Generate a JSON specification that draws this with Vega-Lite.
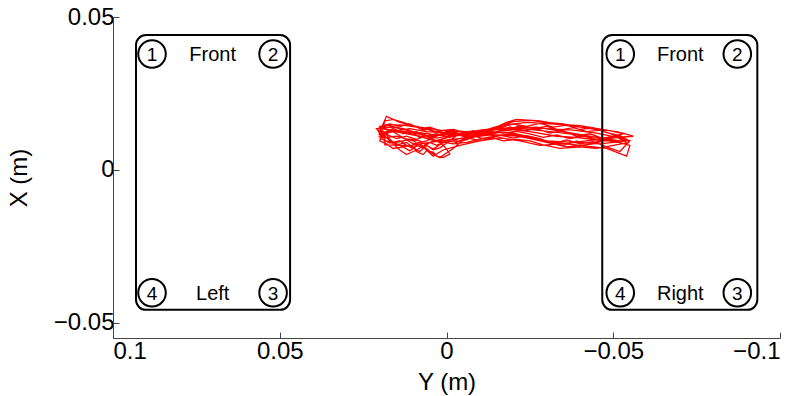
{
  "$schema": "https://vega.github.io/schema/vega-lite/v6.json",
  "autosize": {"type": "none"},
  "padding": {"left": 113, "top": 17, "right": 17, "bottom": 58},
  "width": 667,
  "height": 321,
  "background": "white",
  "config": {
    "view": {"stroke": null},
    "font": "Liberation Sans",
    "axis": {
      "domainColor": "#444",
      "tickColor": "#444",
      "tickSize": -6,
      "grid": false,
      "labelFont": "Liberation Sans",
      "titleFont": "Liberation Sans",
      "labelFontSize": 24,
      "titleFontSize": 24,
      "titleFontWeight": "normal",
      "labelColor": "black",
      "titleColor": "black"
    }
  },
  "datasets": {
    "boxes": [
      {"y1": 0.0931, "y2": 0.0469, "x1": -0.0458, "x2": 0.0441},
      {"y1": -0.0467, "y2": -0.0932, "x1": -0.0458, "x2": 0.0441}
    ],
    "circles": [
      {"Y": 0.0883, "X": 0.0379, "label": "1"},
      {"Y": 0.0520, "X": 0.0379, "label": "2"},
      {"Y": 0.0520, "X": -0.0402, "label": "3"},
      {"Y": 0.0883, "X": -0.0402, "label": "4"},
      {"Y": -0.0521, "X": 0.0379, "label": "1"},
      {"Y": -0.0872, "X": 0.0379, "label": "2"},
      {"Y": -0.0872, "X": -0.0402, "label": "3"},
      {"Y": -0.0521, "X": -0.0402, "label": "4"}
    ],
    "words": [
      {"Y": 0.0701, "X": 0.0379, "label": "Front"},
      {"Y": 0.0701, "X": -0.0402, "label": "Left"},
      {"Y": -0.0701, "X": 0.0379, "label": "Front"},
      {"Y": -0.0701, "X": -0.0402, "label": "Right"}
    ],
    "path": [
      {"t": 1, "Y": 0.018, "X": 0.013}, {"t": 2, "Y": 0.012, "X": 0.0125}, {"t": 3, "Y": 0.005, "X": 0.011}, {"t": 4, "Y": 0.0, "X": 0.0115}, {"t": 5, "Y": -0.008, "X": 0.012}, {"t": 6, "Y": -0.015, "X": 0.0135}, {"t": 7, "Y": -0.022, "X": 0.014}, {"t": 8, "Y": -0.030, "X": 0.0135}, {"t": 9, "Y": -0.038, "X": 0.013}, {"t": 10, "Y": -0.045, "X": 0.012}, {"t": 11, "Y": -0.052, "X": 0.0105},
      {"t": 12, "Y": -0.054, "X": 0.0095}, {"t": 13, "Y": -0.046, "X": 0.0085}, {"t": 14, "Y": -0.038, "X": 0.009}, {"t": 15, "Y": -0.030, "X": 0.0095}, {"t": 16, "Y": -0.022, "X": 0.011}, {"t": 17, "Y": -0.014, "X": 0.0115}, {"t": 18, "Y": -0.006, "X": 0.0105}, {"t": 19, "Y": 0.002, "X": 0.0095}, {"t": 20, "Y": 0.008, "X": 0.0085}, {"t": 21, "Y": 0.013, "X": 0.0075}, {"t": 22, "Y": 0.017, "X": 0.0095}, {"t": 23, "Y": 0.020, "X": 0.0125},
      {"t": 24, "Y": 0.018, "X": 0.0175}, {"t": 25, "Y": 0.014, "X": 0.0155}, {"t": 26, "Y": 0.008, "X": 0.014}, {"t": 27, "Y": 0.002, "X": 0.013}, {"t": 28, "Y": -0.004, "X": 0.0125}, {"t": 29, "Y": -0.010, "X": 0.0125}, {"t": 30, "Y": -0.016, "X": 0.0145}, {"t": 31, "Y": -0.024, "X": 0.0155}, {"t": 32, "Y": -0.032, "X": 0.015}, {"t": 33, "Y": -0.040, "X": 0.0145}, {"t": 34, "Y": -0.048, "X": 0.013}, {"t": 35, "Y": -0.053, "X": 0.012},
      {"t": 36, "Y": -0.050, "X": 0.0105}, {"t": 37, "Y": -0.042, "X": 0.0095}, {"t": 38, "Y": -0.034, "X": 0.0085}, {"t": 39, "Y": -0.028, "X": 0.008}, {"t": 40, "Y": -0.022, "X": 0.0095}, {"t": 41, "Y": -0.016, "X": 0.0105}, {"t": 42, "Y": -0.010, "X": 0.0095}, {"t": 43, "Y": -0.004, "X": 0.008}, {"t": 44, "Y": 0.001, "X": 0.0065}, {"t": 45, "Y": 0.004, "X": 0.0045}, {"t": 46, "Y": 0.007, "X": 0.0075}, {"t": 47, "Y": 0.010, "X": 0.0095}, {"t": 48, "Y": 0.015, "X": 0.011}, {"t": 49, "Y": 0.019, "X": 0.0105},
      {"t": 50, "Y": 0.021, "X": 0.0135}, {"t": 51, "Y": 0.016, "X": 0.014}, {"t": 52, "Y": 0.010, "X": 0.0125}, {"t": 53, "Y": 0.004, "X": 0.0115}, {"t": 54, "Y": -0.002, "X": 0.0115}, {"t": 55, "Y": -0.008, "X": 0.011}, {"t": 56, "Y": -0.013, "X": 0.012}, {"t": 57, "Y": -0.019, "X": 0.0135}, {"t": 58, "Y": -0.027, "X": 0.014}, {"t": 59, "Y": -0.035, "X": 0.0125}, {"t": 60, "Y": -0.043, "X": 0.011}, {"t": 61, "Y": -0.050, "X": 0.0095}, {"t": 62, "Y": -0.055, "X": 0.008},
      {"t": 63, "Y": -0.054, "X": 0.0045}, {"t": 64, "Y": -0.048, "X": 0.007}, {"t": 65, "Y": -0.040, "X": 0.008}, {"t": 66, "Y": -0.032, "X": 0.009}, {"t": 67, "Y": -0.026, "X": 0.0105}, {"t": 68, "Y": -0.020, "X": 0.012}, {"t": 69, "Y": -0.012, "X": 0.0125}, {"t": 70, "Y": -0.005, "X": 0.0115}, {"t": 71, "Y": 0.000, "X": 0.0105}, {"t": 72, "Y": 0.005, "X": 0.009}, {"t": 73, "Y": 0.009, "X": 0.0065}, {"t": 74, "Y": 0.012, "X": 0.005}, {"t": 75, "Y": 0.014, "X": 0.0065}, {"t": 76, "Y": 0.016, "X": 0.0085}, {"t": 77, "Y": 0.018, "X": 0.0115},
      {"t": 78, "Y": 0.017, "X": 0.0125}, {"t": 79, "Y": 0.011, "X": 0.0135}, {"t": 80, "Y": 0.006, "X": 0.0125}, {"t": 81, "Y": -0.001, "X": 0.012}, {"t": 82, "Y": -0.007, "X": 0.0115}, {"t": 83, "Y": -0.013, "X": 0.013}, {"t": 84, "Y": -0.018, "X": 0.0155}, {"t": 85, "Y": -0.021, "X": 0.0165}, {"t": 86, "Y": -0.028, "X": 0.016}, {"t": 87, "Y": -0.036, "X": 0.0145}, {"t": 88, "Y": -0.044, "X": 0.0135}, {"t": 89, "Y": -0.051, "X": 0.0125}, {"t": 90, "Y": -0.056, "X": 0.011},
      {"t": 91, "Y": -0.050, "X": 0.0105}, {"t": 92, "Y": -0.044, "X": 0.0085}, {"t": 93, "Y": -0.036, "X": 0.0075}, {"t": 94, "Y": -0.030, "X": 0.009}, {"t": 95, "Y": -0.024, "X": 0.0105}, {"t": 96, "Y": -0.018, "X": 0.0115}, {"t": 97, "Y": -0.012, "X": 0.0105}, {"t": 98, "Y": -0.006, "X": 0.009}, {"t": 99, "Y": -0.002, "X": 0.0085}, {"t": 100, "Y": 0.003, "X": 0.0095}, {"t": 101, "Y": 0.008, "X": 0.011}, {"t": 102, "Y": 0.014, "X": 0.0125}, {"t": 103, "Y": 0.019, "X": 0.0135},
      {"t": 104, "Y": 0.018, "X": 0.0145}, {"t": 105, "Y": 0.013, "X": 0.0135}, {"t": 106, "Y": 0.007, "X": 0.0115}, {"t": 107, "Y": 0.003, "X": 0.0095}, {"t": 108, "Y": -0.003, "X": 0.010}, {"t": 109, "Y": -0.009, "X": 0.0115}, {"t": 110, "Y": -0.015, "X": 0.0125}, {"t": 111, "Y": -0.023, "X": 0.0135}, {"t": 112, "Y": -0.031, "X": 0.0125}, {"t": 113, "Y": -0.039, "X": 0.0115}, {"t": 114, "Y": -0.046, "X": 0.0105}, {"t": 115, "Y": -0.052, "X": 0.0095},
      {"t": 116, "Y": -0.047, "X": 0.0095}, {"t": 117, "Y": -0.040, "X": 0.0105}, {"t": 118, "Y": -0.033, "X": 0.011}, {"t": 119, "Y": -0.025, "X": 0.0125}, {"t": 120, "Y": -0.017, "X": 0.0135}, {"t": 121, "Y": -0.011, "X": 0.0125}, {"t": 122, "Y": -0.004, "X": 0.0125}, {"t": 123, "Y": 0.002, "X": 0.0115}, {"t": 124, "Y": 0.006, "X": 0.0095}, {"t": 125, "Y": 0.010, "X": 0.0085}, {"t": 126, "Y": 0.013, "X": 0.0105}, {"t": 127, "Y": 0.016, "X": 0.0125}, {"t": 128, "Y": 0.020, "X": 0.0115}, {"t": 129, "Y": 0.018, "X": 0.0105},
      {"t": 130, "Y": 0.019, "X": 0.0120}, {"t": 131, "Y": 0.016, "X": 0.0135}, {"t": 132, "Y": 0.013, "X": 0.0118}, {"t": 133, "Y": 0.011, "X": 0.0128}, {"t": 134, "Y": 0.008, "X": 0.0105}, {"t": 135, "Y": 0.006, "X": 0.0120}, {"t": 136, "Y": 0.003, "X": 0.0112}, {"t": 137, "Y": 0.0, "X": 0.0125}, {"t": 138, "Y": -0.004, "X": 0.0118}, {"t": 139, "Y": -0.008, "X": 0.0128}, {"t": 140, "Y": -0.012, "X": 0.0122}, {"t": 141, "Y": -0.016, "X": 0.0138}, {"t": 142, "Y": -0.020, "X": 0.0150}, {"t": 143, "Y": -0.024, "X": 0.0142}, {"t": 144, "Y": -0.028, "X": 0.0152}, {"t": 145, "Y": -0.032, "X": 0.0140}, {"t": 146, "Y": -0.036, "X": 0.0146}, {"t": 147, "Y": -0.040, "X": 0.0132}, {"t": 148, "Y": -0.044, "X": 0.0138}, {"t": 149, "Y": -0.048, "X": 0.0122}, {"t": 150, "Y": -0.052, "X": 0.0112}, {"t": 151, "Y": -0.054, "X": 0.0100},
      {"t": 152, "Y": -0.051, "X": 0.0090}, {"t": 153, "Y": -0.047, "X": 0.0098}, {"t": 154, "Y": -0.043, "X": 0.0086}, {"t": 155, "Y": -0.039, "X": 0.0094}, {"t": 156, "Y": -0.035, "X": 0.0080}, {"t": 157, "Y": -0.031, "X": 0.0092}, {"t": 158, "Y": -0.027, "X": 0.0098}, {"t": 159, "Y": -0.023, "X": 0.0108}, {"t": 160, "Y": -0.019, "X": 0.0118}, {"t": 161, "Y": -0.015, "X": 0.0110}, {"t": 162, "Y": -0.011, "X": 0.0118}, {"t": 163, "Y": -0.007, "X": 0.0102}, {"t": 164, "Y": -0.004, "X": 0.0092}, {"t": 165, "Y": -0.001, "X": 0.0100}, {"t": 166, "Y": 0.002, "X": 0.0082}, {"t": 167, "Y": 0.004, "X": 0.0068}, {"t": 168, "Y": 0.006, "X": 0.0080}, {"t": 169, "Y": 0.008, "X": 0.0060}, {"t": 170, "Y": 0.010, "X": 0.0072}, {"t": 171, "Y": 0.012, "X": 0.0090}, {"t": 172, "Y": 0.015, "X": 0.0082}, {"t": 173, "Y": 0.017, "X": 0.0100}, {"t": 174, "Y": 0.019, "X": 0.0110},
      {"t": 175, "Y": 0.020, "X": 0.0142}, {"t": 176, "Y": 0.017, "X": 0.0150}, {"t": 177, "Y": 0.014, "X": 0.0142}, {"t": 178, "Y": 0.011, "X": 0.0150}, {"t": 179, "Y": 0.008, "X": 0.0135}, {"t": 180, "Y": 0.005, "X": 0.0140}, {"t": 181, "Y": 0.002, "X": 0.0128}, {"t": 182, "Y": -0.002, "X": 0.0132}, {"t": 183, "Y": -0.006, "X": 0.0120}, {"t": 184, "Y": -0.010, "X": 0.0130}, {"t": 185, "Y": -0.014, "X": 0.0135}, {"t": 186, "Y": -0.018, "X": 0.0128}, {"t": 187, "Y": -0.022, "X": 0.0145}, {"t": 188, "Y": -0.026, "X": 0.0135}, {"t": 189, "Y": -0.030, "X": 0.0142}, {"t": 190, "Y": -0.034, "X": 0.0130}, {"t": 191, "Y": -0.038, "X": 0.0138}, {"t": 192, "Y": -0.042, "X": 0.0125}, {"t": 193, "Y": -0.046, "X": 0.0130}, {"t": 194, "Y": -0.050, "X": 0.0115}, {"t": 195, "Y": -0.055, "X": 0.0095},
      {"t": 196, "Y": -0.052, "X": 0.0060}, {"t": 197, "Y": -0.048, "X": 0.0075}, {"t": 198, "Y": -0.044, "X": 0.0092}, {"t": 199, "Y": -0.040, "X": 0.0085}, {"t": 200, "Y": -0.036, "X": 0.0098}, {"t": 201, "Y": -0.032, "X": 0.0086}, {"t": 202, "Y": -0.028, "X": 0.0102}, {"t": 203, "Y": -0.024, "X": 0.0112}, {"t": 204, "Y": -0.020, "X": 0.0104}, {"t": 205, "Y": -0.016, "X": 0.0114}, {"t": 206, "Y": -0.012, "X": 0.0100}, {"t": 207, "Y": -0.008, "X": 0.0110}, {"t": 208, "Y": -0.005, "X": 0.0098}, {"t": 209, "Y": -0.002, "X": 0.0070}, {"t": 210, "Y": 0.000, "X": 0.0055}, {"t": 211, "Y": 0.002, "X": 0.0040}, {"t": 212, "Y": 0.004, "X": 0.0052}, {"t": 213, "Y": 0.006, "X": 0.0070}, {"t": 214, "Y": 0.008, "X": 0.0085}, {"t": 215, "Y": 0.010, "X": 0.0070}, {"t": 216, "Y": 0.012, "X": 0.0080}, {"t": 217, "Y": 0.014, "X": 0.0095}, {"t": 218, "Y": 0.017, "X": 0.0088}, {"t": 219, "Y": 0.0195, "X": 0.0102},
      {"t": 220, "Y": 0.0205, "X": 0.0130}, {"t": 221, "Y": 0.018, "X": 0.0122}, {"t": 222, "Y": 0.015, "X": 0.0130}, {"t": 223, "Y": 0.012, "X": 0.0118}, {"t": 224, "Y": 0.009, "X": 0.0125}, {"t": 225, "Y": 0.006, "X": 0.0110}, {"t": 226, "Y": 0.003, "X": 0.0118}, {"t": 227, "Y": 0.000, "X": 0.0108}, {"t": 228, "Y": -0.003, "X": 0.0115}, {"t": 229, "Y": -0.007, "X": 0.0105}, {"t": 230, "Y": -0.011, "X": 0.0115}, {"t": 231, "Y": -0.015, "X": 0.0120}, {"t": 232, "Y": -0.019, "X": 0.0140}, {"t": 233, "Y": -0.023, "X": 0.0128}, {"t": 234, "Y": -0.027, "X": 0.0135}, {"t": 235, "Y": -0.031, "X": 0.0120}, {"t": 236, "Y": -0.035, "X": 0.0128}, {"t": 237, "Y": -0.039, "X": 0.0110}, {"t": 238, "Y": -0.043, "X": 0.0118}, {"t": 239, "Y": -0.047, "X": 0.0102}, {"t": 240, "Y": -0.051, "X": 0.0108}, {"t": 241, "Y": -0.054, "X": 0.0088},
      {"t": 242, "Y": -0.050, "X": 0.0080}, {"t": 243, "Y": -0.045, "X": 0.0070}, {"t": 244, "Y": -0.040, "X": 0.0075}, {"t": 245, "Y": -0.034, "X": 0.0070}, {"t": 246, "Y": -0.029, "X": 0.0082}, {"t": 247, "Y": -0.025, "X": 0.0095}, {"t": 248, "Y": -0.021, "X": 0.0100}, {"t": 249, "Y": -0.017, "X": 0.0095}, {"t": 250, "Y": -0.013, "X": 0.0108}, {"t": 251, "Y": -0.009, "X": 0.0098}, {"t": 252, "Y": -0.006, "X": 0.0105}, {"t": 253, "Y": -0.003, "X": 0.0090}, {"t": 254, "Y": 0.000, "X": 0.0095}, {"t": 255, "Y": 0.003, "X": 0.0080}, {"t": 256, "Y": 0.005, "X": 0.0090}, {"t": 257, "Y": 0.007, "X": 0.0072}, {"t": 258, "Y": 0.009, "X": 0.0080}, {"t": 259, "Y": 0.011, "X": 0.0062}, {"t": 260, "Y": 0.013, "X": 0.0075}, {"t": 261, "Y": 0.016, "X": 0.0070}, {"t": 262, "Y": 0.018, "X": 0.0085}, {"t": 263, "Y": 0.020, "X": 0.0095},
      {"t": 264, "Y": 0.0185, "X": 0.0160}, {"t": 265, "Y": 0.016, "X": 0.0165}, {"t": 266, "Y": 0.013, "X": 0.0155}, {"t": 267, "Y": 0.010, "X": 0.0145}, {"t": 268, "Y": 0.007, "X": 0.0130}, {"t": 269, "Y": 0.004, "X": 0.0135}, {"t": 270, "Y": 0.001, "X": 0.0122}, {"t": 271, "Y": -0.003, "X": 0.0128}, {"t": 272, "Y": -0.008, "X": 0.0122}, {"t": 273, "Y": -0.012, "X": 0.0128}, {"t": 274, "Y": -0.016, "X": 0.0142}, {"t": 275, "Y": -0.020, "X": 0.0158}, {"t": 276, "Y": -0.025, "X": 0.0162}, {"t": 277, "Y": -0.030, "X": 0.0155}, {"t": 278, "Y": -0.035, "X": 0.0150}, {"t": 279, "Y": -0.040, "X": 0.0140}, {"t": 280, "Y": -0.045, "X": 0.0132}, {"t": 281, "Y": -0.049, "X": 0.0128}, {"t": 282, "Y": -0.053, "X": 0.0118},
      {"t": 283, "Y": -0.049, "X": 0.0108}, {"t": 284, "Y": -0.045, "X": 0.0100}, {"t": 285, "Y": -0.041, "X": 0.0110}, {"t": 286, "Y": -0.037, "X": 0.0102}, {"t": 287, "Y": -0.033, "X": 0.0114}, {"t": 288, "Y": -0.029, "X": 0.0106}, {"t": 289, "Y": -0.025, "X": 0.0118}, {"t": 290, "Y": -0.021, "X": 0.0126}, {"t": 291, "Y": -0.017, "X": 0.0120}, {"t": 292, "Y": -0.013, "X": 0.0126}, {"t": 293, "Y": -0.009, "X": 0.0116}, {"t": 294, "Y": -0.005, "X": 0.0122}, {"t": 295, "Y": -0.001, "X": 0.0112}, {"t": 296, "Y": 0.003, "X": 0.0104}, {"t": 297, "Y": 0.006, "X": 0.0112}, {"t": 298, "Y": 0.009, "X": 0.0100}, {"t": 299, "Y": 0.012, "X": 0.0110}, {"t": 300, "Y": 0.015, "X": 0.0102}, {"t": 301, "Y": 0.018, "X": 0.0116}, {"t": 302, "Y": 0.020, "X": 0.0108},
      {"t": 303, "Y": 0.0185, "X": 0.0105}, {"t": 304, "Y": 0.0185, "X": 0.0082}, {"t": 305, "Y": 0.012, "X": 0.0080}, {"t": 306, "Y": 0.010, "X": 0.0075}, {"t": 307, "Y": 0.009, "X": 0.0060}, {"t": 308, "Y": 0.007, "X": 0.0050}, {"t": 309, "Y": 0.006, "X": 0.0062}, {"t": 310, "Y": 0.004, "X": 0.0058}, {"t": 311, "Y": 0.003, "X": 0.0045}, {"t": 312, "Y": 0.001, "X": 0.0040}, {"t": 313, "Y": -0.001, "X": 0.0052}, {"t": 314, "Y": 0.0005, "X": 0.0075}, {"t": 315, "Y": 0.002, "X": 0.0090}, {"t": 316, "Y": 0.005, "X": 0.0100}, {"t": 317, "Y": 0.009, "X": 0.0112}, {"t": 318, "Y": 0.013, "X": 0.0120}, {"t": 319, "Y": 0.017, "X": 0.0128}, {"t": 320, "Y": 0.020, "X": 0.0138}, {"t": 321, "Y": 0.0175, "X": 0.0148}, {"t": 322, "Y": 0.013, "X": 0.0146}, {"t": 323, "Y": 0.009, "X": 0.0140}, {"t": 324, "Y": 0.005, "X": 0.0130}, {"t": 325, "Y": 0.001, "X": 0.0120}, {"t": 326, "Y": -0.003, "X": 0.0112}, {"t": 327, "Y": -0.001, "X": 0.0095}, {"t": 328, "Y": 0.002, "X": 0.0072}, {"t": 329, "Y": 0.004, "X": 0.0066}, {"t": 330, "Y": 0.008, "X": 0.0095}, {"t": 331, "Y": 0.011, "X": 0.0100}, {"t": 332, "Y": 0.015, "X": 0.0090}, {"t": 333, "Y": 0.0185, "X": 0.0095}
    ]
  },
  "layer": [
    {
      "data": {"name": "path"},
      "mark": {"type": "line", "color": "#ff0000", "strokeWidth": 1.3, "clip": true},
      "encoding": {
        "x": {
          "field": "Y", "type": "quantitative",
          "scale": {"domain": [-0.1, 0.1], "reverse": true, "nice": false, "zero": false},
          "axis": {"title": "Y (m)", "values": [0.1, 0.05, 0, -0.05, -0.1], "format": "~g", "labelPadding": 7, "titleY": 51, "titleBaseline": "alphabetic"}
        },
        "y": {
          "field": "X", "type": "quantitative",
          "scale": {"domain": [-0.055, 0.05], "nice": false, "zero": false},
          "axis": {"title": "X (m)", "values": [-0.05, 0, 0.05], "format": "~g", "labelPadding": 5, "titlePadding": 22}
        },
        "order": {"field": "t", "type": "quantitative"}
      }
    },
    {
      "data": {"name": "boxes"},
      "mark": {"type": "rect", "fill": null, "fillOpacity": 0, "stroke": "black", "strokeWidth": 2, "cornerRadius": 10},
      "encoding": {
        "x": {"field": "y1", "type": "quantitative"},
        "x2": {"field": "y2"},
        "y": {"field": "x1", "type": "quantitative"},
        "y2": {"field": "x2"}
      }
    },
    {
      "data": {"name": "circles"},
      "mark": {"type": "point", "shape": "circle", "size": 760, "filled": false, "stroke": "black", "strokeWidth": 2, "opacity": 1},
      "encoding": {
        "x": {"field": "Y", "type": "quantitative"},
        "y": {"field": "X", "type": "quantitative"}
      }
    },
    {
      "data": {"name": "circles"},
      "mark": {"type": "text", "fontSize": 19, "color": "black", "baseline": "middle", "align": "center", "dy": 1},
      "encoding": {
        "x": {"field": "Y", "type": "quantitative"},
        "y": {"field": "X", "type": "quantitative"},
        "text": {"field": "label"}
      }
    },
    {
      "data": {"name": "words"},
      "mark": {"type": "text", "fontSize": 20, "color": "black", "baseline": "middle", "align": "center", "dy": 1},
      "encoding": {
        "x": {"field": "Y", "type": "quantitative"},
        "y": {"field": "X", "type": "quantitative"},
        "text": {"field": "label"}
      }
    }
  ]
}
